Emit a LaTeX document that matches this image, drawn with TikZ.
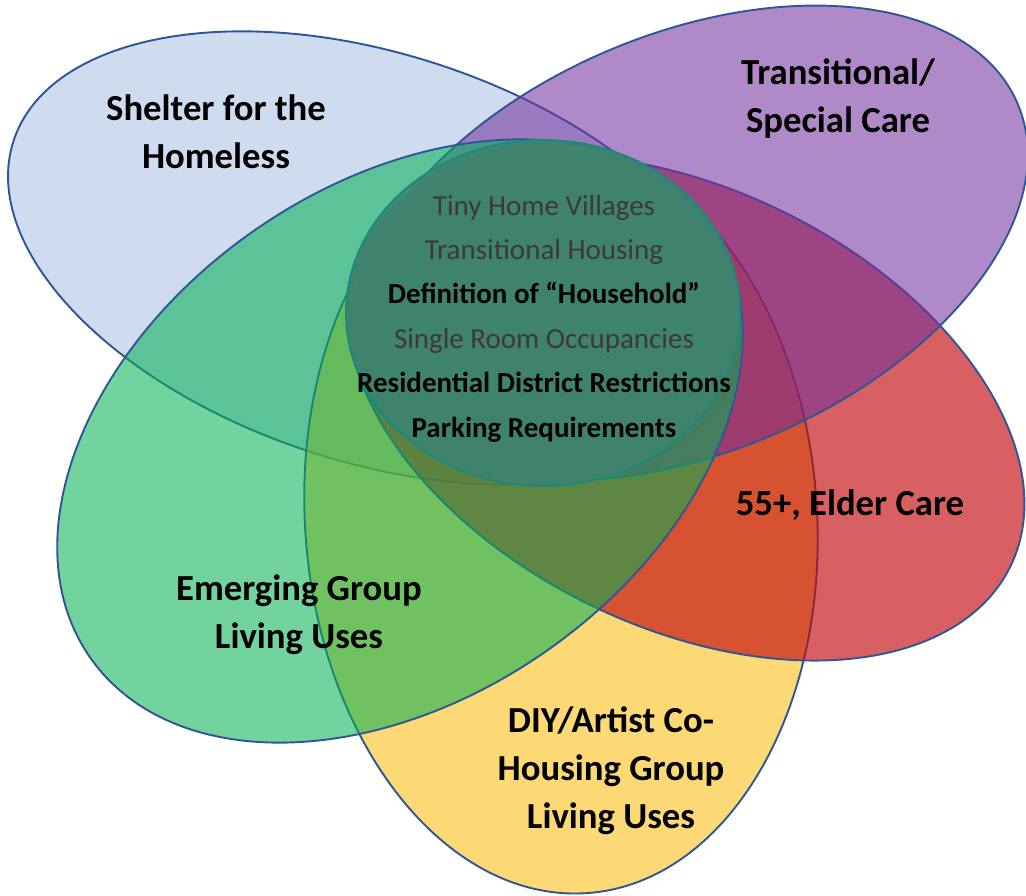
\documentclass[tikz,border=0pt]{standalone}
\usepackage{fontspec}
\setmainfont{Carlito}
\usetikzlibrary{shapes.geometric}
\definecolor{shelterblue}{HTML}{A9BFE2}
\definecolor{transpurple}{HTML}{722E9D}
\definecolor{elderred}{HTML}{C30B0E}
\definecolor{diyyellow}{HTML}{FBBB09}
\definecolor{emerggreen}{HTML}{03B052}
\definecolor{coreteal}{HTML}{3F8470}
\definecolor{rimblue}{HTML}{2F5597}
\definecolor{rimteal}{HTML}{1B8A7A}
\definecolor{softgray}{HTML}{3E3838}
\tikzset{
  set/.style={ellipse, draw=rimblue, line width=1.9pt, fill opacity=0.56,
    inner sep=0pt, outer sep=0pt},
  setlabel/.style={font=\bfseries\fontsize{36.7}{48}\selectfont, align=center, anchor=base},
  issue/.style={font=\fontsize{29}{44.4}\selectfont, align=center, anchor=base, text=softgray}
}
\begin{document}
\begin{tikzpicture}[x=1pt, y=-1pt]
  \useasboundingbox (0,0) rectangle (1026,896);
  % the five sets
  \node[set, fill=shelterblue, minimum width=758pt, minimum height=408pt, rotate=-18] (shelter) at (374,258) {};
  \node[set, fill=diyyellow, minimum width=752pt, minimum height=512pt, rotate=-86] (diy) at (561,518) {};
  \node[set, fill=elderred, fill opacity=0.65, minimum width=722pt, minimum height=438pt, rotate=-26] (elder) at (686,408) {};
  \node[set, fill=transpurple, minimum width=712pt, minimum height=418pt, rotate=23] (transit) at (690,243) {};
  \node[set, fill=emerggreen, minimum width=756pt, minimum height=512pt, rotate=35] (emerging) at (400,441) {};
  % shared core
  \node[set, draw=rimteal, fill=coreteal, fill opacity=0.9, minimum width=394pt, minimum height=346pt] (core) at (543,313) {};
  % labels (base = last line)
  \node[setlabel] (lblshelter) at (216,169) {Shelter for the\\Homeless};
  \node[setlabel] (lbltransit) at (838,133) {Transitional/\\Special Care};
  \node[setlabel] (lblelder) at (850,515) {55+, Elder Care};
  \node[setlabel] (lblemerging) at (299,648) {Emerging Group\\Living Uses};
  \node[setlabel] (lbldiy) at (611,828) {DIY/Artist Co-\\Housing Group\\Living Uses};
  \node[issue] (issues) at (544,437) {Tiny Home Villages\\
    Transitional Housing\\
    {\bfseries\color{black}Definition of “Household”}\\
    Single Room Occupancies\\
    {\bfseries\color{black}Residential District Restrictions}\\
    {\bfseries\color{black}Parking Requirements}};
\end{tikzpicture}
\end{document}
